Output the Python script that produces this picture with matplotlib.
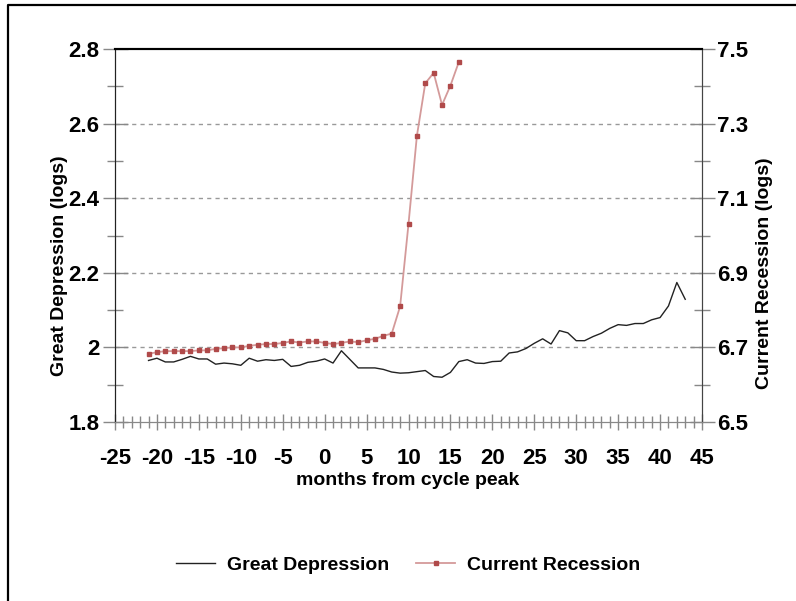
import matplotlib
matplotlib.use("Agg")
import matplotlib.pyplot as plt
from matplotlib.lines import Line2D
from matplotlib.ticker import MultipleLocator

plt.rcParams['font.family'] = ['Liberation Sans', 'DejaVu Sans']
plt.rcParams['font.weight'] = 'bold'

# Great Depression (left axis, logs), months -21..43
gd_months = list(range(-21, 44))
gd_values = [1.965, 1.971, 1.961, 1.961, 1.968, 1.976, 1.969, 1.969, 1.955, 1.958,
             1.956, 1.952, 1.971, 1.963, 1.967, 1.965, 1.968, 1.949, 1.952, 1.960,
             1.963, 1.969, 1.958, 1.991, 1.968, 1.945, 1.945, 1.945, 1.941, 1.934,
             1.931, 1.932, 1.935, 1.938, 1.922, 1.920, 1.933, 1.962, 1.967, 1.958,
             1.957, 1.962, 1.963, 1.985, 1.988, 1.997, 2.011, 2.023, 2.009, 2.045,
             2.039, 2.018, 2.018, 2.029, 2.038, 2.051, 2.061, 2.059, 2.064, 2.064,
             2.074, 2.080, 2.111, 2.174, 2.129]

# Current Recession (right axis, logs), months -21..16
cr_months = list(range(-21, 17))
cr_values = [6.683, 6.687, 6.690, 6.690, 6.690, 6.690, 6.692, 6.692, 6.696, 6.698,
             6.700, 6.700, 6.704, 6.707, 6.709, 6.709, 6.712, 6.716, 6.713, 6.716,
             6.716, 6.712, 6.709, 6.712, 6.716, 6.714, 6.719, 6.723, 6.731, 6.737,
             6.810, 7.031, 7.267, 7.408, 7.436, 7.350, 7.402, 7.465]

x_ticks = list(range(-25, 46, 5))
left_ticks = [1.8, 2.0, 2.2, 2.4, 2.6, 2.8]
right_ticks = [6.5, 6.7, 6.9, 7.1, 7.3, 7.5]

fig = plt.figure(figsize=(7.96, 6.01), dpi=100)
ax = fig.add_axes([115/796, 1-422/601, (702-115)/796, (422-49)/601])
ax2 = ax.twinx()

gd_line, = ax.plot(gd_months, gd_values, color='#222222', lw=1.0)
cr_line, = ax2.plot(cr_months, cr_values, color='#d49a9a', lw=1.3,
                    marker='s', markersize=3.2, markerfacecolor='#b04a4a',
                    markeredgecolor='#b04a4a')

ax.set_xlim(-25, 45)
ax.set_ylim(1.8, 2.8)
ax2.set_ylim(6.5, 7.5)

ax.set_xticks(x_ticks)
ax.set_xticklabels([str(t) for t in x_ticks])
ax.xaxis.set_minor_locator(MultipleLocator(1))
ax.set_yticks(left_ticks)
ax.set_yticklabels([f"{t:g}" for t in left_ticks])
ax.yaxis.set_minor_locator(MultipleLocator(0.1))
ax2.set_yticks(right_ticks)
ax2.set_yticklabels([f"{t:g}" for t in right_ticks])
ax2.yaxis.set_minor_locator(MultipleLocator(0.1))

for yv in [2.0, 2.2, 2.4, 2.6]:
    ax.axhline(yv, color='#999999', lw=1.0, ls=(0, (3, 3)), zorder=0)

tick_col = '#888888'
ax.tick_params(axis='x', which='major', direction='inout', length=12, width=1,
               color=tick_col, labelsize=16, pad=13)
ax.tick_params(axis='x', which='minor', direction='inout', length=8, width=1,
               color=tick_col)
ax.tick_params(axis='y', which='major', direction='inout', length=18, width=1,
               color=tick_col, labelsize=16, pad=2)
ax.tick_params(axis='y', which='minor', direction='inout', length=12, width=1,
               color=tick_col)
ax2.tick_params(axis='y', which='major', direction='inout', length=18, width=1,
                color=tick_col, labelsize=16, pad=2)
ax2.tick_params(axis='y', which='minor', direction='inout', length=12, width=1,
                color=tick_col)
for lab in ax.get_xticklabels() + ax.get_yticklabels() + ax2.get_yticklabels():
    lab.set_fontweight('bold')

for a in (ax, ax2):
    a.spines['left'].set_color('#222222')
    a.spines['right'].set_color('#444444')
    a.spines['top'].set_color('#000000')
    a.spines['bottom'].set_color(tick_col)
    a.spines['top'].set_linewidth(1.5)

ax.set_xlabel('months from cycle peak', fontsize=14, fontweight='bold')
ax.set_ylabel('Great Depression (logs)', fontsize=14, fontweight='bold')
ax2.set_ylabel('Current Recession (logs)', fontsize=14, fontweight='bold')
ax.xaxis.set_label_coords(0.499, -0.158)
ax.yaxis.set_label_coords(-0.094, 0.42)
ax2.yaxis.set_label_coords(1.107, 0.40)
ax.xaxis.label.set_va('center')
ax.yaxis.label.set_va('center')
ax2.yaxis.label.set_va('center')

fig.legend([gd_line, cr_line], ['Great Depression', 'Current Recession'],
           loc='center', bbox_to_anchor=(408/796, 1-565/601), ncol=2,
           frameon=False, handlelength=2.0, columnspacing=1.4, handletextpad=0.6,
           prop={'weight': 'bold', 'size': 14})

fig.add_artist(Line2D([8/796, 8/796, 1.0], [0.0, 1-5/601, 1-5/601],
                      transform=fig.transFigure, color='black', lw=1.6))

fig.savefig('out.png', dpi=100)
